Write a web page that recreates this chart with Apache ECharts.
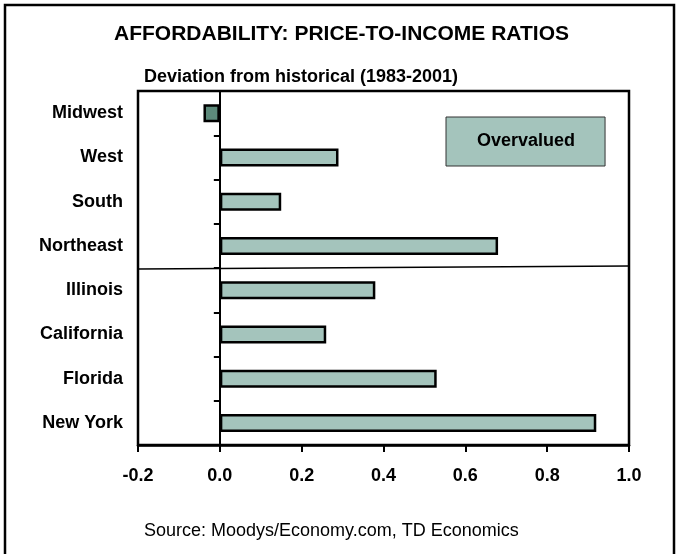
<!DOCTYPE html>
<html lang="en">
<head>
    <meta charset="UTF-8">
    <title>Affordability: price-to-income ratios</title>
    <script src="https://cdn.jsdelivr.net/npm/echarts@6/dist/echarts.min.js"></script>
    <style>
        html, body {
            margin: 0;
            padding: 0;
            background: #fff;
        }
        #chart {
            width: 678px;
            height: 554px;
        }
    </style>
</head>
<body>
<div id="chart"></div>
<script>
    // deviation from historical (1983-2001)
    let regions = ['Midwest', 'West', 'South', 'Northeast', 'Illinois', 'California', 'Florida', 'New York'];
    let deviation = [-0.04, 0.29, 0.15, 0.68, 0.38, 0.26, 0.53, 0.92];
    let xTicks = [-0.2, 1.0, 0.2]; // min, max, step

    let font = '"Liberation Sans", Arial, sans-serif';
    let chart = echarts.init(document.getElementById('chart'));

    let option = {
        backgroundColor: '#fff',
        animation: false,
        textStyle: {
            fontFamily: font
        },
        title: [
            {
                text: 'AFFORDABILITY: PRICE-TO-INCOME RATIOS',
                left: 114,
                top: 24,
                padding: 0,
                textStyle: {fontSize: 21, fontWeight: 'bold', color: '#000', fontFamily: font}
            },
            {
                text: 'Deviation from historical (1983-2001)',
                left: 144,
                top: 68,
                padding: 0,
                textStyle: {fontSize: 18, fontWeight: 'bold', color: '#000', fontFamily: font}
            },
            {
                text: 'Source: Moodys/Economy.com, TD Economics',
                left: 144,
                top: 522,
                padding: 0,
                textStyle: {fontSize: 18, fontWeight: 'normal', color: '#000', fontFamily: font}
            }
        ],
        legend: {
            data: [{name: 'Overvalued', icon: 'none'}],
            left: 446,
            top: 117,
            orient: 'vertical',
            selectedMode: false,
            itemWidth: 0,
            itemHeight: 18,
            itemGap: 0,
            padding: [15, 30, 15, 26],
            backgroundColor: '#a4c4bc',
            borderColor: '#333',
            borderWidth: 1,
            textStyle: {fontSize: 18, fontWeight: 'bold', color: '#000', fontFamily: font, lineHeight: 19}
        },
        grid: {
            left: 138,
            right: 49,
            top: 91,
            bottom: 109,
            show: true,
            borderColor: '#000',
            borderWidth: 2.5,
            containLabel: false,
            outerBoundsMode: 'none'
        },
        xAxis: {
            type: 'value',
            min: xTicks[0],
            max: xTicks[1],
            interval: xTicks[2],
            splitLine: {show: false},
            axisLine: {show: true, lineStyle: {color: '#000', width: 2.5}},
            axisTick: {show: true, length: 7, lineStyle: {color: '#000', width: 2}},
            axisLabel: {
                margin: 22,
                fontSize: 18,
                fontWeight: 'bold',
                color: '#000',
                fontFamily: font,
                formatter: function (v) {
                    return v.toFixed(1);
                }
            }
        },
        yAxis: {
            type: 'category',
            data: regions,
            inverse: true,
            axisLine: {show: true, onZero: true, lineStyle: {color: '#000', width: 2}},
            axisTick: {show: true, length: 6, lineStyle: {color: '#000', width: 2}},
            splitLine: {show: false},
            axisLabel: {
                margin: 15,
                fontSize: 18,
                fontWeight: 'bold',
                color: '#000',
                fontFamily: font
            }
        },
        series: [{
            name: 'Overvalued',
            type: 'bar',
            data: deviation,
            barWidth: 18,
            itemStyle: {
                color: function (p) {
                    return p.value < 0 ? '#5d8a7b' : '#a4c4bc';
                },
                borderColor: '#000',
                borderWidth: 2.5
            },
            z: 1
        }]
    };
    chart.setOption(option);

    // hand-drawn divider between the regions and the states, plus the outer frame
    let left = chart.convertToPixel({xAxisIndex: 0}, xTicks[0]);
    let right = chart.convertToPixel({xAxisIndex: 0}, xTicks[1]);
    let yA = chart.convertToPixel({yAxisIndex: 0}, 'Northeast');
    let yB = chart.convertToPixel({yAxisIndex: 0}, 'Illinois');
    let mid = (yA + yB) / 2;
    chart.setOption({
        graphic: [
            {
                type: 'line',
                shape: {x1: left, y1: mid + 1, x2: right, y2: mid - 2},
                style: {stroke: '#000', lineWidth: 1.5},
                z: 10
            },
            {
                type: 'rect',
                shape: {x: 5, y: 5, width: 669, height: 560},
                style: {fill: null, stroke: '#000', lineWidth: 2.5},
                z: 10
            }
        ]
    });
</script>
</body>
</html>
